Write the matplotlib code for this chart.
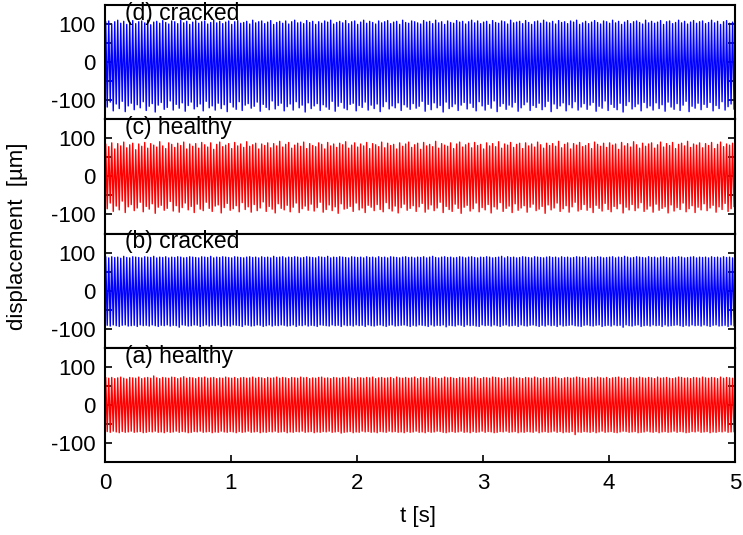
"""Shaft displacement signals, healthy vs cracked rotor (four stacked panels)."""

import matplotlib

matplotlib.use("Agg")

import matplotlib.pyplot as plt
import numpy as np
from matplotlib.ticker import FixedLocator, FuncFormatter

# ---------------------------------------------------------------------------
# Data (per-cycle peak / trough values, in µm)
# ---------------------------------------------------------------------------

FREQ_HZ = 42.0  # rotation frequency read from stripe count (~42 cycles per second)

PANEL_LABELS = ["(d) cracked", "(c) healthy", "(b) cracked", "(a) healthy"]
PANEL_COLORS = ["blue", "red", "blue", "red"]

a_peaks = [
    71, 70, 72, 69, 71, 73, 70, 68, 72, 71, 70, 73, 69, 71, 72, 70, 76, 71, 69, 72,
    71, 70, 73, 72, 69, 71, 74, 70, 72, 71, 69, 72, 71, 73, 70, 71, 72, 69, 71, 70,
    73, 71, 70, 72, 69, 71, 72, 70, 71, 73, 70, 72, 71, 69, 72, 70, 71, 73, 70, 72,
    71, 69, 72, 71, 70, 73, 71, 72, 69, 71, 70, 72, 73, 70, 71, 69, 72, 71, 70, 72,
    71, 73, 70, 69, 72, 71, 70, 72, 71, 73, 69, 71, 72, 70, 71, 72, 69, 73, 71, 70,
    72, 70, 71, 73, 69, 72, 71, 70, 74, 71, 72, 69, 70, 73, 71, 72, 70, 69, 72, 71,
    70, 72, 71, 73, 70, 69, 72, 71, 70, 73, 72, 71, 69, 70, 72, 71, 73, 70, 71, 69,
    72, 71, 70, 73, 71, 69, 72, 70, 71, 72, 73, 70, 69, 71, 72, 70, 71, 73, 72, 70,
    69, 71, 72, 70, 73, 71, 70, 72, 69, 71, 72, 73, 70, 71, 69, 72, 71, 70, 73, 71,
    70, 72, 71, 69, 73, 70, 71, 72, 70, 69, 71, 73, 72, 70, 71, 69, 72, 71, 70, 73,
    71, 70, 72, 71, 69, 73, 70, 72, 71, 70,
]
a_troughs = [
    -70, -72, -69, -71, -73, -70, -72, -71, -69, -72, -71, -70, -73, -72, -70, -71, -69, -72, -71, -73,
    -70, -72, -71, -69, -72, -70, -71, -73, -72, -70, -71, -69, -72, -71, -70, -73, -71, -72, -69, -71,
    -72, -70, -71, -73, -70, -72, -71, -69, -72, -71, -70, -73, -71, -72, -70, -71, -69, -72, -71, -70,
    -73, -71, -72, -70, -71, -69, -72, -71, -70, -73, -71, -72, -70, -71, -69, -72, -71, -70, -74, -72,
    -71, -70, -73, -71, -72, -69, -71, -70, -72, -71, -73, -70, -71, -72, -69, -71, -70, -72, -71, -73,
    -70, -72, -71, -69, -72, -71, -73, -70, -72, -71, -69, -70, -72, -73, -71, -70, -72, -71, -69, -72,
    -71, -73, -70, -72, -71, -69, -72, -70, -71, -73, -72, -70, -71, -69, -72, -71, -70, -73, -71, -72,
    -70, -71, -72, -69, -73, -71, -70, -72, -71, -69, -72, -70, -73, -71, -72, -70, -78, -71, -72, -70,
    -71, -72, -70, -73, -71, -69, -72, -71, -70, -72, -73, -71, -69, -70, -72, -71, -70, -73, -72, -71,
    -69, -71, -72, -70, -73, -71, -70, -72, -71, -69, -72, -70, -71, -73, -72, -70, -71, -69, -72, -71,
    -70, -73, -71, -72, -70, -71, -69, -72, -71, -70,
]

b_peaks = [
    88, 86, 89, 87, 88, 85, 90, 87, 86, 89, 88, 87, 86, 89, 88, 87, 90, 86, 88, 87,
    89, 86, 88, 87, 89, 88, 86, 87, 89, 88, 87, 86, 89, 88, 87, 90, 86, 88, 87, 89,
    88, 87, 86, 89, 88, 87, 86, 88, 89, 87, 88, 86, 89, 87, 88, 86, 90, 87, 88, 89,
    86, 88, 87, 89, 88, 86, 87, 89, 88, 87, 86, 89, 88, 87, 90, 86, 88, 87, 89, 88,
    87, 86, 89, 88, 87, 88, 86, 89, 87, 88, 86, 89, 87, 88, 86, 89, 88, 87, 86, 88,
    89, 87, 88, 86, 88, 87, 89, 86, 88, 90, 87, 86, 88, 89, 87, 88, 86, 87, 89, 88,
    86, 88, 89, 87, 86, 88, 87, 89, 88, 86, 87, 88, 90, 86, 89, 87, 88, 86, 87, 89,
    88, 87, 86, 89, 88, 87, 86, 88, 89, 87, 88, 86, 89, 87, 88, 86, 87, 89, 88, 87,
    89, 86, 88, 87, 89, 88, 86, 87, 88, 89, 86, 88, 87, 90, 88, 86, 87, 89, 88, 87,
    86, 89, 87, 88, 86, 88, 89, 87, 86, 88, 87, 89, 88, 86, 87, 88, 89, 86, 88, 87,
    88, 86, 89, 87, 88, 86, 89, 87, 88, 86,
]
b_troughs = [
    -91, -93, -90, -92, -94, -91, -90, -93, -92, -91, -94, -90, -92, -91, -93, -90, -92, -94, -91, -92,
    -90, -93, -91, -92, -96, -90, -91, -93, -92, -90, -91, -94, -92, -90, -93, -91, -92, -90, -94, -91,
    -92, -93, -90, -91, -92, -94, -90, -91, -93, -92, -90, -91, -94, -92, -90, -93, -91, -92, -90, -91,
    -93, -92, -90, -94, -91, -92, -90, -93, -91, -92, -94, -90, -91, -92, -93, -90, -92, -91, -94, -90,
    -92, -91, -93, -90, -92, -91, -94, -90, -92, -93, -91, -90, -92, -94, -91, -90, -93, -92, -91, -90,
    -92, -94, -91, -93, -90, -91, -92, -94, -90, -93, -91, -92, -90, -95, -91, -92, -93, -90, -91, -94,
    -90, -92, -91, -93, -94, -90, -92, -91, -93, -90, -92, -94, -91, -90, -93, -92, -91, -94, -90, -92,
    -93, -91, -90, -92, -94, -91, -93, -90, -92, -91, -94, -90, -93, -92, -91, -90, -92, -93, -94, -91,
    -90, -92, -93, -91, -90, -94, -92, -91, -93, -90, -92, -91, -96, -90, -92, -93, -91, -90, -94, -92,
    -91, -93, -90, -92, -91, -94, -90, -93, -92, -91, -90, -92, -94, -91, -93, -90, -92, -91, -93, -90,
    -92, -94, -91, -90, -93, -92, -91, -94, -90, -92,
]

c_peaks = [
    84, 78, 88, 72, 86, 80, 90, 75, 83, 87, 70, 85, 79, 89, 74, 86, 82, 77, 91, 80,
    73, 88, 84, 76, 87, 81, 90, 72, 85, 79, 86, 74, 89, 83, 77, 88, 71, 84, 90, 78,
    82, 86, 73, 89, 80, 85, 76, 91, 79, 83, 87, 72, 85, 81, 88, 75, 86, 80, 92, 77,
    84, 89, 74, 82, 87, 79, 90, 73, 86, 81, 78, 88, 84, 72, 89, 80, 85, 76, 87, 83,
    91, 74, 82, 88, 77, 85, 80, 89, 73, 86, 83, 78, 90, 75, 87, 81, 84, 72, 88, 79,
    85, 90, 76, 83, 87, 71, 89, 80, 84, 78, 92, 74, 86, 82, 79, 88, 73, 85, 90, 77,
    83, 87, 75, 89, 81, 84, 72, 88, 80, 86, 78, 91, 74, 85, 82, 89, 76, 84, 87, 73,
    88, 80, 85, 77, 90, 83, 74, 87, 81, 86, 79, 92, 75, 84, 88, 72, 86, 82, 89, 78,
    81, 86, 73, 90, 84, 79, 87, 76, 88, 82, 85, 71, 89, 80, 86, 77, 91, 83, 74, 87,
    79, 85, 88, 74, 83, 90, 77, 86, 81, 89, 73, 84, 87, 80, 92, 76, 85, 82, 88, 75,
    86, 81, 89, 73, 84, 90, 78, 85, 82, 87,
]
c_troughs = [
    -85, -70, -92, -78, -88, -65, -95, -80, -74, -90, -83, -68, -93, -79, -86, -72, -97, -81, -76, -89,
    -84, -66, -91, -77, -94, -82, -70, -88, -79, -95, -73, -86, -90, -68, -84, -92, -78, -75, -96, -82,
    -71, -89, -85, -77, -93, -69, -87, -80, -94, -74, -90, -83, -67, -92, -79, -86, -96, -72, -84, -88,
    -76, -93, -81, -70, -95, -85, -78, -89, -73, -91, -82, -68, -94, -87, -75, -90, -80, -97, -72, -86,
    -84, -79, -92, -70, -88, -83, -95, -76, -81, -90, -74, -87, -93, -69, -85, -91, -78, -96, -82, -73,
    -89, -84, -77, -92, -80, -71, -94, -86, -75, -90, -83, -68, -95, -79, -87, -92, -73, -84, -97, -81,
    -76, -91, -85, -70, -93, -82, -88, -74, -96, -80, -86, -69, -92, -84, -78, -95, -72, -89, -83, -77,
    -94, -81, -73, -90, -86, -79, -97, -75, -88, -83, -70, -92, -85, -77, -94, -80, -68, -91, -87, -74,
    -89, -82, -95, -76, -84, -91, -71, -87, -93, -79, -85, -72, -96, -81, -88, -74, -90, -83, -69, -92,
    -86, -78, -94, -73, -89, -84, -80, -96, -75, -91, -82, -87, -70, -93, -85, -77, -95, -81, -88, -72,
    -90, -83, -76, -94, -80, -87, -71, -92, -85, -79,
]

d_peaks = [
    105, 108, 100, 106, 110, 102, 107, 99, 104, 109, 101, 106, 108, 103, 110, 98, 105, 107, 102, 109,
    104, 100, 108, 106, 101, 110, 103, 107, 99, 105, 109, 102, 106, 108, 100, 104, 110, 103, 107, 101,
    105, 108, 99, 106, 109, 102, 104, 107, 100, 110, 103, 106, 108, 101, 105, 109, 99, 104, 107, 102,
    108, 100, 106, 110, 103, 105, 101, 109, 104, 107, 99, 106, 102, 108, 105, 110, 100, 104, 107, 103,
    109, 101, 106, 108, 99, 105, 110, 102, 107, 104, 100, 108, 103, 106, 109, 101, 105, 107, 99, 110,
    104, 102, 108, 106, 103, 100, 109, 105, 107, 101, 110, 103, 106, 99, 108, 104, 102, 109, 105, 107,
    100, 106, 110, 103, 108, 101, 105, 107, 99, 109, 104, 102, 108, 106, 100, 110, 103, 105, 107, 101,
    109, 104, 99, 106, 108, 102, 110, 105, 103, 107, 100, 109, 104, 106, 101, 108, 105, 110, 99, 103,
    107, 101, 105, 109, 104, 100, 108, 106, 102, 110, 103, 107, 99, 105, 109, 101, 106, 108, 104, 100,
    110, 103, 107, 102, 105, 109, 99, 106, 108, 101, 104, 110, 103, 107, 100, 105, 109, 102, 106, 108,
    101, 104, 110, 103, 107, 99, 106, 109, 102, 105,
]
d_troughs = [
    -118, -105, -128, -110, -122, -103, -130, -115, -108, -125, -112, -120, -104, -127, -116, -109, -131, -113, -106, -124,
    -119, -102, -126, -111, -121, -107, -129, -114, -105, -123, -117, -110, -128, -103, -120, -115, -126, -108, -122, -112,
    -130, -106, -118, -124, -104, -127, -113, -109, -121, -116, -105, -129, -111, -119, -125, -102, -123, -114, -108, -128,
    -117, -110, -126, -104, -120, -113, -131, -107, -122, -115, -109, -127, -112, -118, -124, -103, -129, -116, -106, -121,
    -125, -111, -108, -128, -114, -119, -105, -126, -113, -122, -110, -130, -117, -104, -123, -115, -120, -107, -127, -112,
    -118, -124, -109, -121, -116, -103, -129, -111, -125, -107, -120, -114, -131, -105, -122, -117, -110, -127, -113, -106,
    -123, -108, -119, -128, -104, -115, -126, -111, -121, -102, -130, -116, -109, -124, -113, -118, -106, -129, -120, -112,
    -105, -127, -114, -119, -108, -125, -117, -103, -130, -110, -122, -115, -107, -128, -112, -120, -104, -126, -118, -109,
    -124, -113, -106, -129, -116, -121, -102, -127, -111, -119, -125, -108, -131, -114, -104, -123, -117, -110, -128, -106,
    -120, -115, -126, -107, -122, -112, -129, -105, -118, -124, -109, -127, -113, -103, -130, -116, -121, -108, -125, -111,
    -119, -106, -128, -114, -122, -104, -126, -117, -110, -123,
]

PANEL_DATA = [(d_peaks, d_troughs), (c_peaks, c_troughs), (b_peaks, b_troughs), (a_peaks, a_troughs)]

X_TICKS = [0, 1, 2, 3, 4, 5]
Y_TICKS = [-100, -50, 0, 50, 100]
Y_LABELLED = [-100, 0, 100]


def _zigzag(peaks, troughs):
    """Interleave peak and trough samples on the cycle time grid."""
    period = 1.0 / FREQ_HZ
    t_p = (np.arange(len(peaks)) + 0.25) * period
    t_t = (np.arange(len(troughs)) + 0.75) * period
    t = np.concatenate([t_p, t_t])
    y = np.concatenate([np.asarray(peaks, float), np.asarray(troughs, float)])
    order = np.argsort(t)
    return t[order], y[order]


def main() -> None:
    plt.rcParams["font.family"] = ["Liberation Sans", "DejaVu Sans"]
    fig, axes = plt.subplots(4, 1, sharex=True, figsize=(7.43, 5.35), dpi=100)
    fig.subplots_adjust(left=0.1413, right=0.989, top=0.9907, bottom=0.1364, hspace=0)

    for ax, label, color, (peaks, troughs) in zip(axes, PANEL_LABELS, PANEL_COLORS, PANEL_DATA):
        t, y = _zigzag(peaks, troughs)
        ax.plot(t, y, color=color, lw=1.0)
        ax.set_xlim(0, 5)
        ax.set_ylim(-150, 150)
        ax.yaxis.set_major_locator(FixedLocator(Y_TICKS))
        ax.yaxis.set_major_formatter(
            FuncFormatter(lambda v, _pos: f"{int(v)}" if int(v) in Y_LABELLED else "")
        )
        ax.tick_params(axis="y", direction="in", right=True, length=5, width=1.2,
                       labelsize=16, pad=7)
        ax.tick_params(axis="x", direction="in", length=5, width=1.2, labelsize=16, pad=8)
        for sp in ax.spines.values():
            sp.set_linewidth(1.5)
        ax.text(0.16, 128, label, fontsize=16.5, ha="left", va="center")

    for ax in axes[:-1]:
        ax.tick_params(axis="x", bottom=False)
    axes[-1].xaxis.set_major_locator(FixedLocator(X_TICKS))

    fig.text(0.024, 0.558, "displacement  [µm]", rotation=90, ha="center", va="center", fontsize=16)
    fig.text(0.5626, 0.034, "t [s]", ha="center", va="center", fontsize=16)

    fig.savefig("out.png", dpi=100)
    plt.close(fig)


if __name__ == "__main__":
    main()
